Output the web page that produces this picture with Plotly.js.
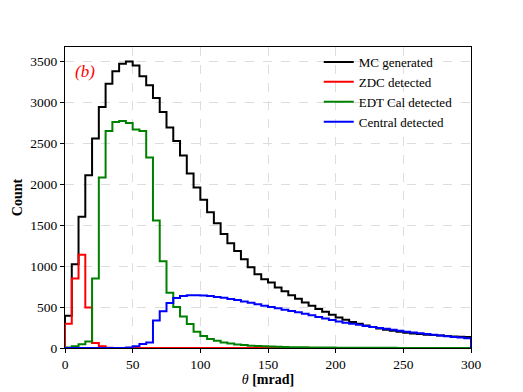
<!DOCTYPE html>
<html>
<head>
<meta charset="utf-8">
<script src="https://cdn.plot.ly/plotly-3.0.1.min.js"></script>
<style>html,body{margin:0;padding:0;background:#fff;}#chart{width:523px;height:392px;}</style>
</head>
<body>
<div id="chart"></div>
<script>
// Bin edges: 0..300 mrad, 5 mrad wide
const binWidth = 5;
const binStart = 0;
const seriesNames = ["MC generated", "ZDC detected", "EDT Cal detected", "Central detected"];
const seriesColors = ["#000000", "#ff0000", "#008000", "#0000ff"];

const mcGenerated = [394, 1024, 1605, 2113, 2561, 2946, 3232, 3385, 3476, 3504,
  3455, 3321, 3211, 3056, 2885, 2695, 2532, 2354, 2134, 1963,
  1813, 1659, 1524, 1394, 1280, 1187, 1085, 988, 902, 841,
  800, 740, 695, 645, 601, 556, 516, 476, 443, 406,
  373, 345, 317, 296, 276, 256, 239, 223, 211, 199,
  187, 178, 171, 162, 158, 154, 146, 142, 138, 134];

const zdcDetected = [296, 850, 1140, 495, 60, 20, 3, 0, 0, 0,
  0, 0, 0, 0, 0, 0, 0, 0, 0, 0,
  0, 0, 0, 0, 0, 0, 0, 0, 0, 0,
  0, 0, 0, 0, 0, 0, 0, 0, 0, 0,
  0, 0, 0, 0, 0, 0, 0, 0, 0, 0,
  0, 0, 0, 0, 0, 0, 0, 0, 0, 0];

const edtCalDetected = [5, 20, 45, 80, 850, 2085, 2654, 2763, 2776, 2751,
  2671, 2654, 2329, 1560, 1060, 675, 500, 385, 293, 200,
  148, 110, 89, 68, 56, 44, 36, 28, 24, 20,
  17, 14, 12, 10, 9, 8, 7, 6, 5, 5,
  4, 4, 3, 3, 3, 2, 2, 2, 2, 1,
  1, 1, 1, 1, 1, 1, 1, 0, 0, 0];

const centralDetected = [0, 0, 0, 0, 0, 0, 0, 0, 0, 5,
  20, 48, 68, 337, 450, 549, 610, 635, 645, 646,
  642, 635, 625, 613, 600, 586, 570, 553, 536, 518,
  500, 485, 469, 453, 436, 418, 399, 380, 361, 343,
  325, 309, 296, 283, 270, 258, 246, 234, 222, 211,
  200, 190, 180, 170, 161, 152, 143, 135, 127, 119];

const xTicks = [0, 50, 100, 150, 200, 250, 300];
const yTicks = [0, 500, 1000, 1500, 2000, 2500, 3000, 3500];

function stepTrace(values, name, color) {
  const x = [binStart], y = [0];
  values.forEach((v, i) => { x.push(binStart + i * binWidth); y.push(v); });
  const end = binStart + values.length * binWidth;
  x.push(end); y.push(values[values.length - 1]);
  x.push(end); y.push(0);
  return {x, y, type: 'scatter', mode: 'lines', name,
    line: {color, width: 2, shape: 'hv'}, hoverinfo: 'skip'};
}

const allSeries = [mcGenerated, zdcDetected, edtCalDetected, centralDetected];
const data = allSeries.map((s, i) => stepTrace(s, seriesNames[i], seriesColors[i]));

const font = "Liberation Serif";
const layout = {
  width: 523, height: 392,
  margin: {l: 65, r: 52, t: 47, b: 44},
  paper_bgcolor: '#fff', plot_bgcolor: '#fff',
  font: {family: font, size: 13, color: '#000'},
  showlegend: true,
  legend: {x: 0.625, y: 1.0, xanchor: 'left', yanchor: 'top',
    bgcolor: 'rgba(0,0,0,0)', font: {family: font, size: 13, color: '#000'},
    tracegroupgap: 0, itemwidth: 30},
  xaxis: {range: [0, 300], tickvals: xTicks, ticktext: xTicks.map(String),
    ticks: 'outside', ticklen: 4, tickwidth: 1, tickcolor: '#000',
    showline: true, linecolor: '#000', linewidth: 1, mirror: true,
    showgrid: true, gridcolor: '#dddddd', griddash: 'dash', gridwidth: 1,
    zeroline: false, tickfont: {family: font, size: 13.5},
    title: {text: '<i>θ</i> <b>[mrad]</b>', font: {family: font, size: 14}, standoff: 1}},
  yaxis: {range: [0, 3680], tickvals: yTicks, ticktext: yTicks.map(String),
    ticks: 'outside', ticklen: 4, tickwidth: 1, tickcolor: '#000',
    showline: true, linecolor: '#000', linewidth: 1, mirror: true,
    showgrid: true, gridcolor: '#dddddd', griddash: 'dash', gridwidth: 1,
    zeroline: false, tickfont: {family: font, size: 13.5},
    title: {text: '<b>Count</b>', font: {family: font, size: 14}, standoff: 4}},
  annotations: [{text: '<i>(b)</i>', xref: 'paper', yref: 'paper',
    x: 0.02, y: 0.917, xanchor: 'left', yanchor: 'middle', showarrow: false,
    font: {family: font, size: 17, color: '#ff0000'}}]
};

Plotly.newPlot('chart', data, layout, {displayModeBar: false, staticPlot: true});
</script>
</body>
</html>
